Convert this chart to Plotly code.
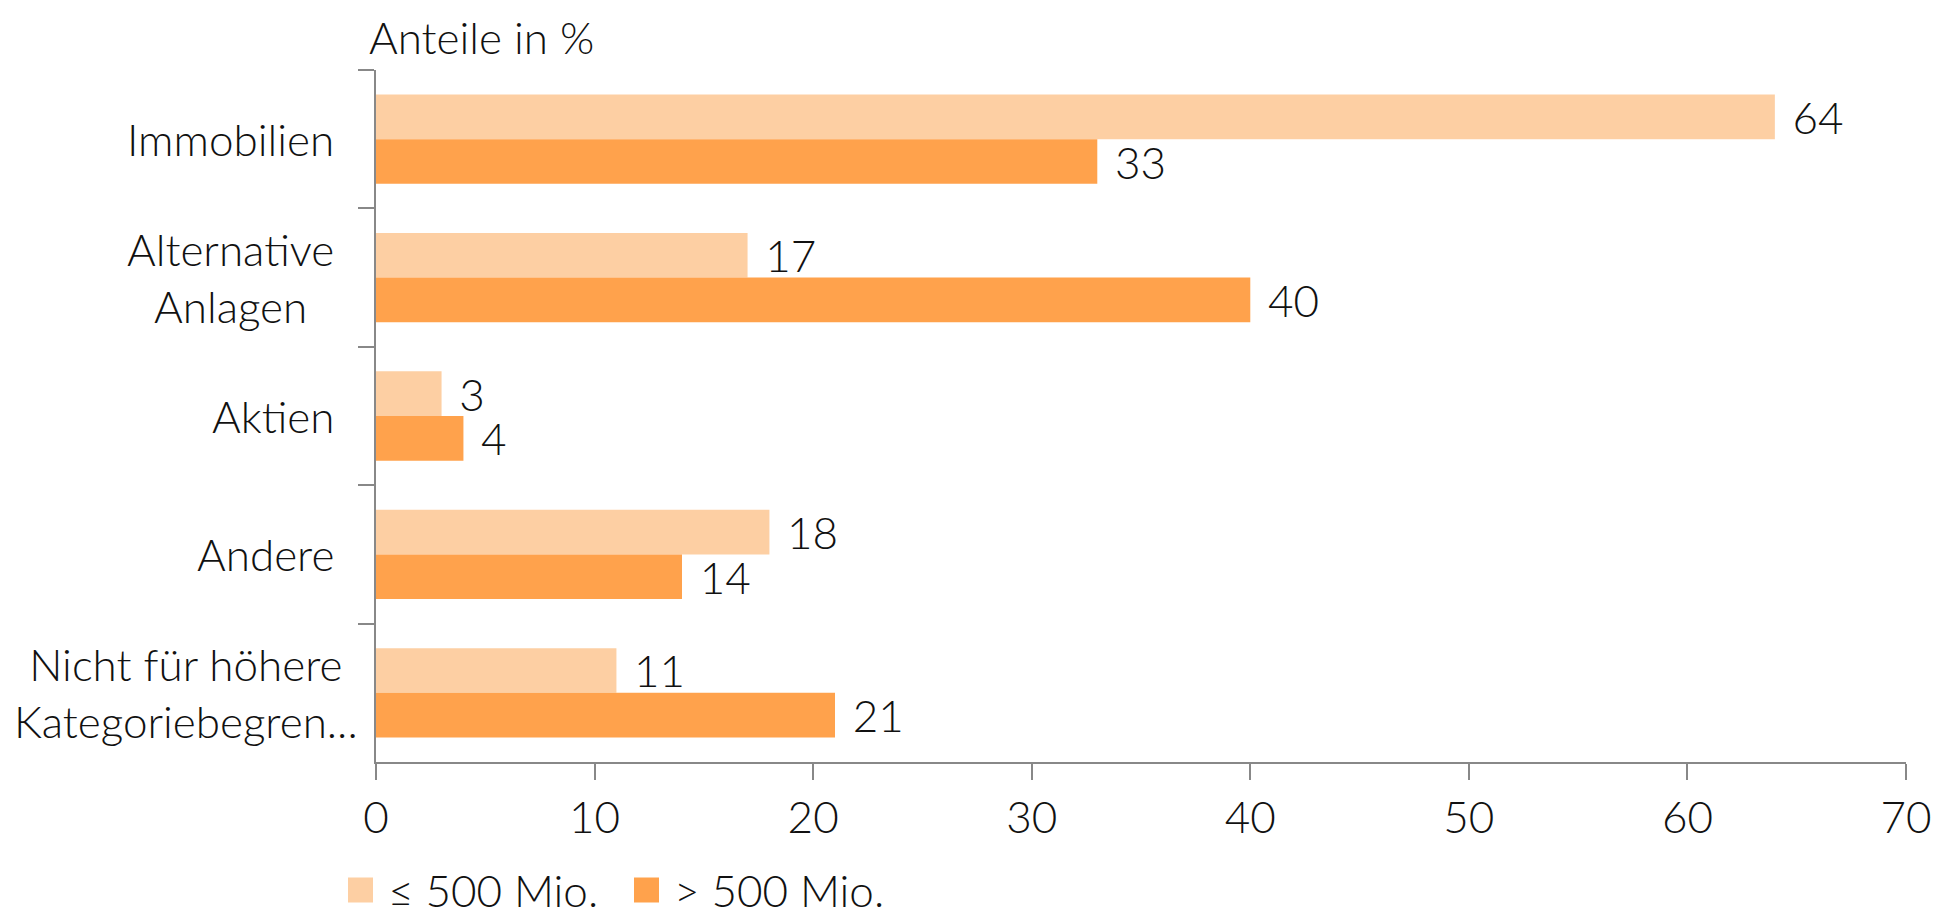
import plotly.graph_objects as go

categories = ["Immobilien", "Alternative<br>Anlagen", "Aktien", "Andere",
              "Nicht für höhere<br>Kategoriebegren..."]
small_vals = [64, 17, 3, 18, 11]
large_vals = [33, 40, 4, 14, 21]
series_names = ["≤ 500 Mio.", "> 500 Mio."]
x_ticks = [0, 10, 20, 30, 40, 50, 60, 70]
axis_title = "Anteile in %"

FONT = "Lato"
FS = 44
FW = 300
TXT = "#111111"
LIGHT = "#FDCFA3"
DARK = "#FFA24C"
AXIS = "#888888"
colors = [LIGHT, DARK]

W, H = 1948, 913
ML, MR, MT, MB = 368, 50, 62, 159
PW, PH = W - ML - MR, H - MT - MB

def f(size=FS):
    return dict(family=FONT, size=size, color=TXT, weight=FW)

def px_x(x):
    return (x - ML) / PW

def px_y(y):
    return (H - MB - y) / PH

fig = go.Figure()
for name, vals, col in zip(series_names, [small_vals, large_vals], colors):
    fig.add_trace(go.Bar(
        y=categories, x=vals, name=name, orientation="h",
        marker=dict(color=col, line=dict(width=0)),
        text=[str(v) for v in vals], texttemplate="\u2004%{text}",
        textposition="outside", constraintext="none",
        textfont=f(), cliponaxis=False, showlegend=False,
    ))

# category labels (centered multi-line, placed left of the axis)
for i, c in enumerate(categories):
    shift = -16 if i == len(categories) - 1 else -40
    fig.add_annotation(xref="paper", yref="y", x=0, y=c, text=c, showarrow=False,
                       xanchor="right", yanchor="middle", align="center", xshift=shift,
                       font=f())

fig.add_annotation(xref="paper", yref="paper", x=0, y=1, text=axis_title, showarrow=False,
                   xanchor="left", yanchor="bottom", xshift=-8, yshift=6, borderpad=0,
                   font=f())

# legend drawn manually (larger square swatches)
leg_x = [340, 626]
leg_cy = 882
sw = 25
for name, col, lx in zip(series_names, colors, leg_x):
    fig.add_shape(type="rect", xref="paper", yref="paper",
                  x0=px_x(lx), x1=px_x(lx + sw),
                  y0=px_y(leg_cy + sw / 2), y1=px_y(leg_cy - sw / 2),
                  fillcolor=col, line=dict(width=0))
    fig.add_annotation(xref="paper", yref="paper", x=px_x(lx + sw + 13), y=px_y(leg_cy),
                       text=name, showarrow=False, xanchor="left", yanchor="middle",
                       font=f())

fig.update_layout(
    width=W, height=H,
    margin=dict(l=ML, r=MR, t=MT, b=MB, autoexpand=False),
    paper_bgcolor="white", plot_bgcolor="white",
    barmode="group", bargap=0.355, bargroupgap=0,
    font=f(),
    showlegend=False,
    xaxis=dict(range=[0, 70], tickvals=x_ticks, ticks="outside", ticklen=16,
               tickcolor=AXIS, tickwidth=2, showline=True, linecolor=AXIS, linewidth=2,
               showgrid=False, zeroline=False, tickfont=f()),
    yaxis=dict(autorange="reversed", type="category", tickson="boundaries",
               ticks="outside", ticklen=16, tickcolor=AXIS, tickwidth=2,
               showline=True, linecolor=AXIS, linewidth=2, showgrid=False,
               showticklabels=False),
)

fig.write_html("out.html")
